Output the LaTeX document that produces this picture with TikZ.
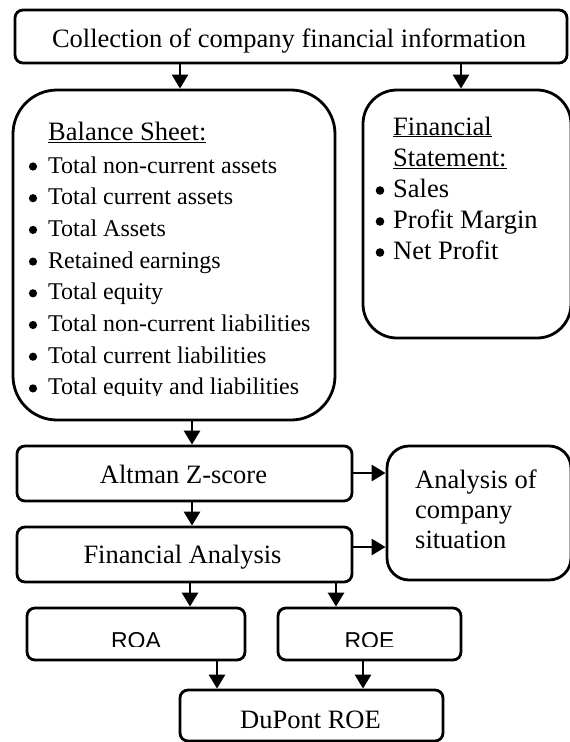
\documentclass[tikz,border=0pt]{standalone}
\usepackage{fontspec}
\setmainfont{Liberation Serif}
\newfontfamily\sansf{Liberation Sans}
\usetikzlibrary{arrows.meta}

\tikzset{
  box/.style={draw, line width=2.8pt, rounded corners=8pt, inner sep=0pt},
  arr/.style={line width=2.8pt, -{Triangle[length=14pt,width=16pt]}},
  txt/.style={inner sep=0pt, anchor=base west},
  lbl/.style={inner sep=0pt, anchor=base},
  bul/.style={fill=black},
}
\newcommand{\labelsize}{\fontsize{26.5}{31}\selectfont}
\newcommand{\listsize}{\fontsize{24}{29}\selectfont}

\begin{document}
\begin{tikzpicture}[x=1pt,y=-1pt]
\useasboundingbox (0,0) rectangle (570,742);
\labelsize

% boxes
\node[box, minimum width=552pt, minimum height=53pt] (top) at (291,36.5) {};
\node[box, rounded corners=44pt, minimum width=322pt, minimum height=330pt] (bal) at (174,255) {};
\node[box, rounded corners=34pt, minimum width=208pt, minimum height=248pt] (fs) at (467,214) {};
\node[box, minimum width=335pt, minimum height=55pt] (alt) at (184.5,473.5) {};
\node[box, rounded corners=22pt, minimum width=184pt, minimum height=134pt] (ana) at (479,513) {};
\node[box, minimum width=335pt, minimum height=55pt] (fa) at (184.5,554.5) {};
\node[box, minimum width=218pt, minimum height=52pt] (roa) at (136,634) {};
\node[box, minimum width=183pt, minimum height=52pt] (roe) at (369.5,634) {};
\node[box, minimum width=263pt, minimum height=51pt] (dup) at (311.5,715.5) {};

% labels of the single-line boxes
\node[lbl] (topt) at (289,47) {Collection of company financial information};
\node[lbl] (altt) at (183.5,483) {Altman Z-score};
\node[lbl] (fat) at (182.5,563) {Financial Analysis};
\node[lbl] (dupt) at (310.5,728) {DuPont ROE};

% balance sheet list
\node[txt] (bh) at (48,140) {\underline{Balance Sheet:}};
\begin{scope}[every node/.style={txt}]
\listsize
\node (b1) at (48,173) {Total non-current assets};
\node (b2) at (48,204.7) {Total current assets};
\node (b3) at (48,236.4) {Total Assets};
\node (b4) at (48,268.1) {Retained earnings};
\node (b5) at (48,299.8) {Total equity};
\node (b6) at (48,331.5) {Total non-current liabilities};
\node (b7) at (48,363.2) {Total current liabilities};
\end{scope}
\begin{scope}
  \clip (0,0) rectangle (570,395.5);
  \node[txt] (b8) at (48,394.9) {\listsize Total equity and liabilities};
\end{scope}
\foreach \yy in {173,204.7,236.4,268.1,299.8,331.5,363.2,394.9}
  \fill[bul] (33,{\yy-6.5}) circle (4.1);

% financial statement list
\node[txt] (fh1) at (393,135) {\underline{Financial}};
\node[txt] (fh2) at (393,166.5) {\underline{Statement:}};
\node[txt] (f1) at (393,197.5) {Sales};
\node[txt] (f2) at (393,228.5) {Profit Margin};
\node[txt] (f3) at (393,259.5) {Net Profit};
\foreach \yy in {197.5,228.5,259.5}
  \fill[bul] (380,{\yy-7}) circle (4.3);

% analysis text
\node[txt] (a1) at (415,488) {Analysis of};
\node[txt] (a2) at (415,518) {company};
\node[txt] (a3) at (415,548) {situation};

% ratio labels
\begin{scope}
  \clip (0,0) rectangle (570,646.5);
  \node[lbl] (roat) at (136,648) {\sansf\fontsize{23}{27}\selectfont ROA};
  \node[lbl] (roet) at (369.5,648) {\sansf\fontsize{23}{27}\selectfont ROE};
\end{scope}

% connectors
\draw[arr] (top.south -| 180,0) -- (180,0 |- bal.north);
\draw[arr] (top.south -| 461,0) -- (461,0 |- fs.north);
\draw[arr] (bal.south -| 192,0) -- (192,0 |- alt.north);
\draw[arr] (alt.south -| 192,0) -- (192,0 |- fa.north);
\draw[arr] (alt.east |- 0,473) -- (ana.west |- 0,473);
\draw[arr] (fa.east |- 0,547) -- (ana.west |- 0,547);
\draw[arr] (fa.south -| 190,0) -- (190,0 |- roa.north);
\draw[arr] (fa.south -| 336,0) -- (336,0 |- roe.north);
\draw[arr] (roa.south -| 217,0) -- (217,0 |- dup.north);
\draw[arr] (roe.south -| 363,0) -- (363,0 |- dup.north);
\end{tikzpicture}
\end{document}
